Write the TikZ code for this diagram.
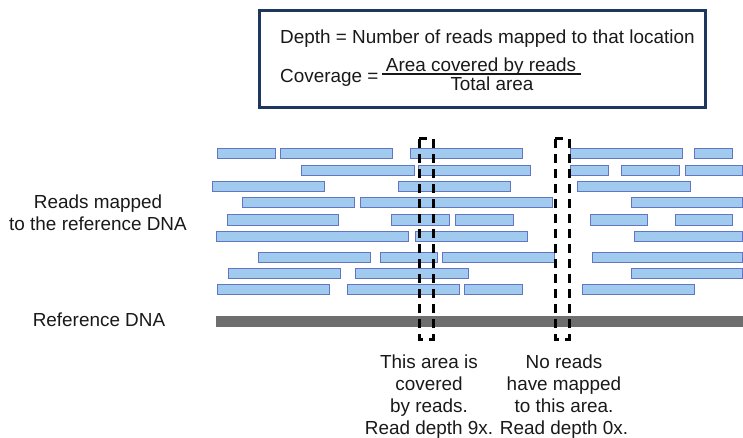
\documentclass[tikz,border=0pt]{standalone}
\usepackage{fontspec}
\setmainfont{Liberation Sans}
\definecolor{readfill}{RGB}{160,202,238}
\definecolor{readedge}{RGB}{100,118,195}
\definecolor{boxedge}{RGB}{30,55,95}
\definecolor{dnagray}{RGB}{110,110,110}
\definecolor{txt}{RGB}{25,25,25}

\begin{document}
\begin{tikzpicture}[x=1pt, y=-1pt,
        lbl/.style={font=\fontsize{18.9}{22}\selectfont, text=txt, inner sep=0pt, align=center},
        readbar/.style={fill=readfill, draw=readedge, line width=1pt},
        window/.style={draw=black, line width=3pt, dash pattern=on 9pt off 6pt}]
        % ==== DEFINITIONS ====
        \def\rh{5} % half height of a read
        \useasboundingbox (0,0) rectangle (743,438);

        % ==== FORMULA BOX ====
        \draw[boxedge, line width=3pt] (259,11) rectangle (705,108);
        \node[lbl, anchor=base west] (depth) at (280,44) {Depth = Number of reads mapped to that location};
        \node[lbl, anchor=base west] (cov) at (280,83) {Coverage =};
        \node[lbl, anchor=base] (num) at (481,71.5) {Area covered by reads};
        \node[lbl, anchor=base] (den) at (492,90.5) {Total area};
        \draw[txt, line width=1.2pt] (382,74) -- (581,74);

        % ==== READS (row y / start / end) ====
        \foreach \y/\a/\b in {154/217/275, 154/280/392, 154/410/522, 154/570/682, 154/694/732,
                171/301/414, 171/418/530, 171/570/608, 171/621/679, 171/685/742,
                187/212/324, 187/398/510, 187/577/690,
                203/242/354, 203/360/552, 203/631/742,
                220/227/338, 220/391/449, 220/455/513, 220/590/647, 220/675/732,
                236/216/408, 236/415/527, 236/634/742,
                257/258/370, 257/380/437, 257/442/554, 257/592/742,
                273/228/340, 273/355/468, 273/631/742,
                289/217/329, 289/347/459, 289/464/522, 289/582/694}
            \draw[readbar] (\a,\y-\rh) rectangle (\b,\y+\rh);

        % ==== REFERENCE DNA ====
        \fill[dnagray] (216,316) rectangle (743,327);

        % ==== WINDOWS ====
        \draw[window] (419,139) rectangle (433,339);
        \draw[window] (555,139) rectangle (569,339);

        % ==== LABELS ====
        \node[lbl, anchor=north] (mapped) at (98,195) {Reads mapped\\to the reference DNA};
        \node[lbl, anchor=north] (refdna) at (99,313) {Reference DNA};
        \node[lbl, anchor=north] (covered) at (429,355) {This area is\\covered\\by reads.\\Read depth 9x.};
        \node[lbl, anchor=north] (empty) at (564,355) {No reads\\have mapped\\to this area.\\Read depth 0x.};

    \end{tikzpicture}
\end{document}
